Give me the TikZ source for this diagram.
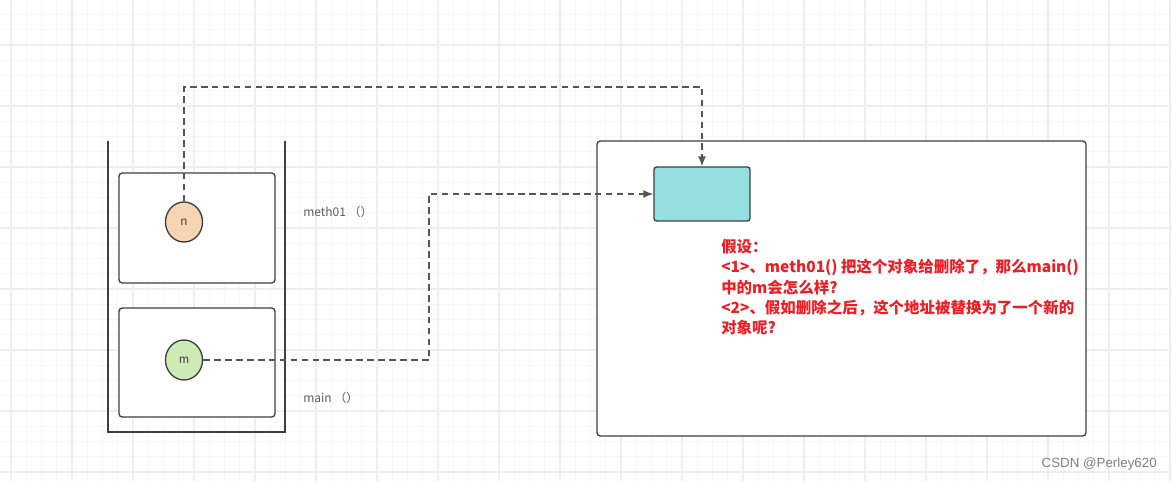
\documentclass[tikz,border=0pt]{standalone}
\usepackage{fontspec}
\usepackage{xcolor}
\usepackage{tikz}
\setmainfont{Liberation Sans}
\newfontfamily\cjk{Noto Sans CJK SC}
\usetikzlibrary{shapes.geometric,arrows.meta,calc}

\definecolor{gridminor}{HTML}{F7F7F7}
\definecolor{gridmajor}{HTML}{EEEEEE}
\definecolor{edge}{HTML}{3F3F3F}
\definecolor{dash}{HTML}{555555}
\definecolor{peach}{HTML}{F8D5B2}
\definecolor{leaf}{HTML}{CDEBB3}
\definecolor{cyanobj}{HTML}{95DFE0}
\definecolor{note}{HTML}{EE1D23}

\tikzset{
    frame/.style={draw=edge, line width=1pt, rounded corners=2.5pt, fill=white, inner sep=0pt},
    slot/.style={ellipse, draw=edge, line width=1pt, minimum width=27.75pt, minimum height=30pt, inner sep=0pt, font=\fontsize{9}{10}\selectfont, text=edge},
    ref/.style={draw=dash, line width=1.1pt, dash pattern=on 5pt off 3.2pt},
    tag/.style={font=\cjk\fontsize{9}{10}\selectfont, text=edge!85, anchor=west, inner sep=0pt},
}

\begin{document}
\begin{tikzpicture}[x=0.75pt, y=-0.75pt]
    \useasboundingbox (0,0) rectangle (1172,481);
    \fill[white] (0,0) rectangle (1172,481);

    % Grid background
    \foreach \i in {0,...,77}
        \draw[gridminor, line width=0.9pt] ({-4.25+\i*15.25},0) -- ({-4.25+\i*15.25},481);
    \foreach \j in {0,...,32}
        \draw[gridminor, line width=0.9pt] (0,{-0.75+\j*15.25}) -- (1172,{-0.75+\j*15.25});
    \foreach \i in {0,...,19}
        \draw[gridmajor, line width=1pt] ({11+\i*61},0) -- ({11+\i*61},481);
    \foreach \j in {0,...,7}
        \draw[gridmajor, line width=1pt] (0,{45+\j*61}) -- (1172,{45+\j*61});

    % Stack
    \draw[edge, line width=1pt] (108,141) -- (108,432) -- (285,432) -- (285,141);

    % Frames
    \node[frame, minimum width=117pt, minimum height=82.5pt] (meth) at (197,228) {};
    \node[frame, minimum width=117pt, minimum height=81.75pt] (mainf) at (197,362.5) {};
    \node[slot, fill=peach] (n) at (184,222) {n};
    \node[slot, fill=leaf] (m) at (184,360) {m};
    \node[tag] (lmeth) at (303,212) {meth01 （）};
    \node[tag] (lmain) at (303,398) {main （）};

    % Heap
    \node[frame, minimum width=366.75pt, minimum height=221.25pt] (heap) at (841.5,288.5) {};
    \node[frame, fill=cyanobj, rounded corners=2pt, minimum width=72pt, minimum height=40.5pt] (obj) at (702,194) {};

    % References
    \coordinate (topbend) at (450,87);
    \coordinate (midbend) at (429,280);
    \draw[ref, -{Latex[length=7.5pt,width=6pt]}] (n.north) |- (topbend) -| (obj.north);
    \draw[ref, -{Latex[length=7.5pt,width=6pt]}] (m.east) -| (midbend) |- (obj.west);

    % Question
    \node[anchor=north west, inner sep=0pt, align=left, text=note,
          font=\cjk\bfseries\fontsize{11.6}{15.2}\selectfont] (question) at (721,239)
        {假设：\\
         <1>、meth01() 把这个对象给删除了，那么main()\\
         中的m会怎么样?\\
         <2>、假如删除之后，这个地址被替换为了一个新的\\
         对象呢?};

    % Watermark
    \node[anchor=east, inner sep=0pt, text=black!50, font=\fontsize{10}{12}\selectfont] (mark) at (1157,464) {CSDN @Perley620};
\end{tikzpicture}
\end{document}
